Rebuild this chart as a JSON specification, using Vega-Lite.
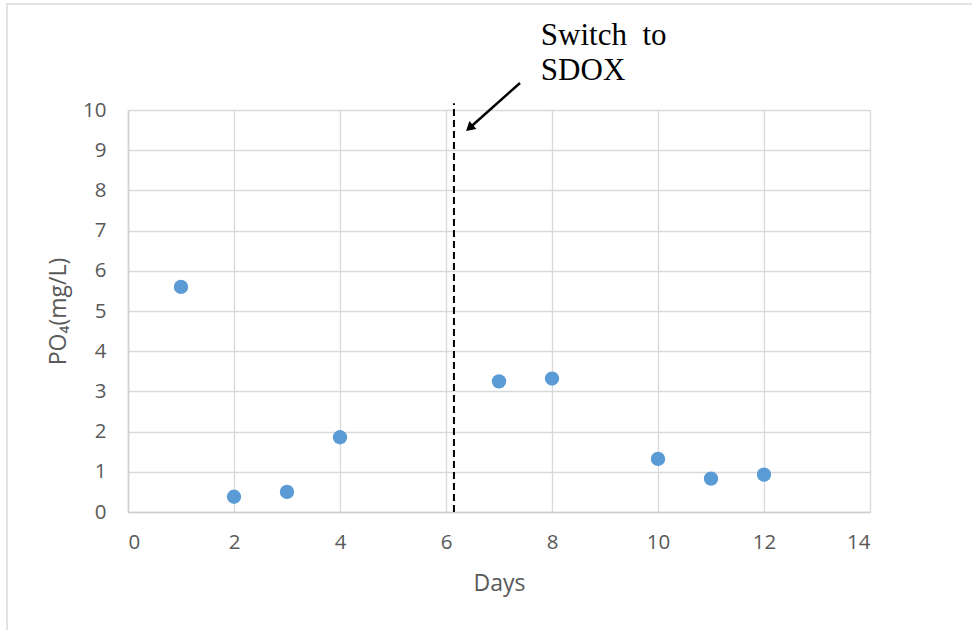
{
  "$schema": "https://vega.github.io/schema/vega-lite/v6.json",
  "width": 742,
  "height": 402,
  "autosize": "none",
  "padding": {"left": 128, "top": 110, "right": 102, "bottom": 118},
  "background": "white",
  "config": {
    "view": {"stroke": null},
    "axis": {
      "labelFont": "Open Sans",
      "titleFont": "Open Sans",
      "labelColor": "#595959",
      "titleColor": "#595959",
      "labelFontSize": 20.5,
      "titleFontSize": 23,
      "titleFontWeight": "normal",
      "grid": true,
      "gridColor": "#d9d9d9",
      "gridWidth": 1.3,
      "gridOpacity": 1,
      "domainColor": "#d0d0d0",
      "domainWidth": 1.5,
      "ticks": false
    }
  },
  "datasets": {
    "po4": [
      {"day": 1, "po4": 5.6},
      {"day": 2, "po4": 0.38},
      {"day": 3, "po4": 0.5},
      {"day": 4, "po4": 1.86},
      {"day": 7, "po4": 3.25},
      {"day": 8, "po4": 3.32},
      {"day": 10, "po4": 1.32},
      {"day": 11, "po4": 0.83},
      {"day": 12, "po4": 0.93}
    ]
  },
  "encoding": {
    "x": {
      "type": "quantitative",
      "title": "Days",
      "scale": {"domain": [0, 14], "nice": false, "zero": true},
      "axis": {"values": [0, 2, 4, 6, 8, 10, 12, 14], "grid": true, "labelPadding": 20, "titlePadding": 20}
    },
    "y": {
      "type": "quantitative",
      "title": "PO₄(mg/L)",
      "scale": {"domain": [0, 10], "nice": false},
      "axis": {"values": [0, 1, 2, 3, 4, 5, 6, 7, 8, 9, 10], "grid": true, "labelPadding": 22, "titlePadding": 12}
    }
  },
  "layer": [
    {
      "data": {"name": "po4"},
      "mark": {"type": "point", "filled": true, "opacity": 1, "size": 205, "color": "#5b9bd5"},
      "encoding": {
        "x": {"field": "day", "type": "quantitative"},
        "y": {"field": "po4", "type": "quantitative"}
      }
    },
    {
      "data": {"values": [{}]},
      "mark": {"type": "rect", "fill": "transparent", "stroke": "#d9d9d9", "strokeWidth": 1.5},
      "encoding": {
        "x": {"datum": -2.283, "type": "quantitative"},
        "x2": {"datum": 16.5},
        "y": {"datum": 12.637, "type": "quantitative"},
        "y2": {"datum": -3.5}
      }
    },
    {
      "data": {"values": [{}]},
      "mark": {"type": "rule", "color": "black", "strokeWidth": 2, "strokeDash": [7, 4]},
      "encoding": {
        "x": {"datum": 6.15, "type": "quantitative"},
        "y": {"datum": 0, "type": "quantitative"},
        "y2": {"datum": 10.17}
      }
    },
    {
      "data": {"values": [{}]},
      "mark": {"type": "rule", "color": "black", "strokeWidth": 2.5},
      "encoding": {
        "x": {"datum": 7.396, "type": "quantitative"},
        "y": {"datum": 10.672, "type": "quantitative"},
        "x2": {"datum": 6.443},
        "y2": {"datum": 9.552}
      }
    },
    {
      "data": {"values": [{}]},
      "mark": {"type": "point", "shape": "triangle-up", "filled": true, "opacity": 1, "color": "black", "size": 110, "angle": 228.3},
      "encoding": {
        "x": {"datum": 6.443, "type": "quantitative"},
        "y": {"datum": 9.552, "type": "quantitative"}
      }
    },
    {
      "data": {"values": [{"note": "Switch\u00a0 to"}, {"note": "SDOX"}]},
      "transform": [{"window": [{"op": "row_number", "as": "line"}]}],
      "mark": {"type": "text", "font": "Liberation Serif", "fontSize": 31, "color": "black", "align": "left", "baseline": "alphabetic"},
      "encoding": {
        "x": {"datum": 7.79, "type": "quantitative"},
        "y": {"datum": 11.62, "type": "quantitative"},
        "yOffset": {"field": "line", "type": "quantitative", "scale": {"domain": [1, 2], "range": [0, 35]}, "legend": null},
        "text": {"field": "note"}
      }
    }
  ]
}
